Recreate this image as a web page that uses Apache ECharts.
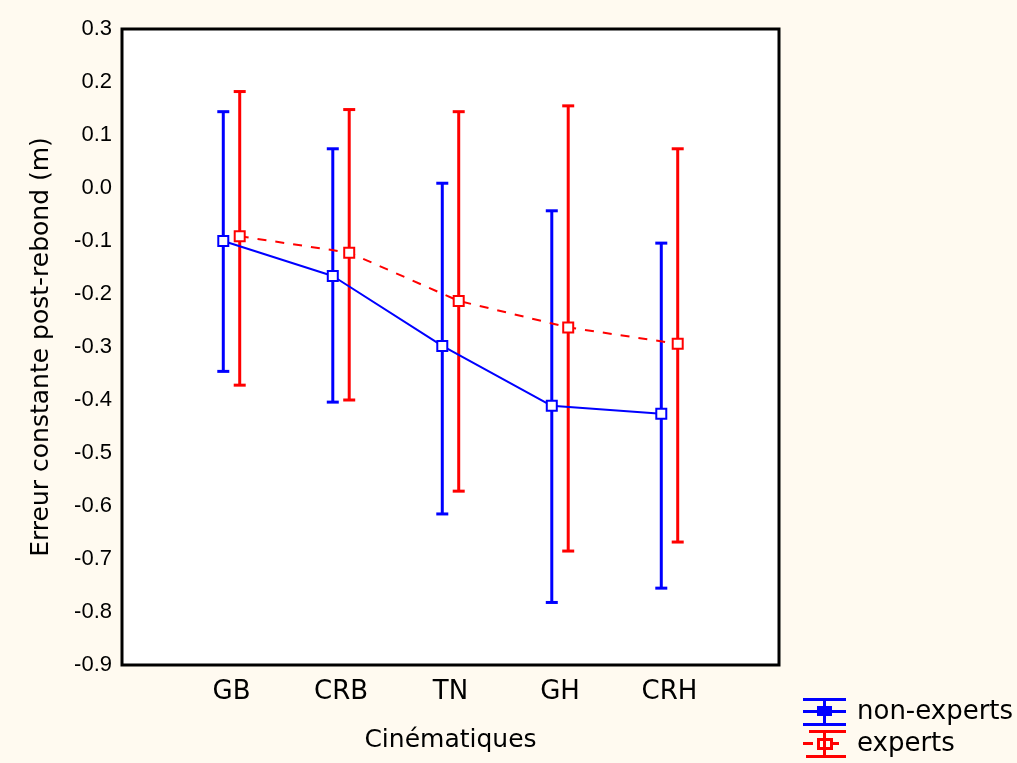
<!DOCTYPE html>
<html>
<head>
<meta charset="utf-8">
<script src="https://cdn.jsdelivr.net/npm/echarts@6/dist/echarts.min.js"></script>
<style>
  html, body { margin: 0; padding: 0; background: #fffaf0; }
  #chart { width: 1017px; height: 763px; }
</style>
</head>
<body>
<div id="chart"></div>
<script>
var categories = ['GB', 'CRB', 'TN', 'GH', 'CRH'];
var yTicks = { min: -0.9, max: 0.3, step: 0.1 };

// non-experts (blue)
var nonExpertsMean = [-0.10, -0.166, -0.298, -0.411, -0.426];
var nonExpertsLow  = [-0.346, -0.404, -0.615, -0.782, -0.755];
var nonExpertsHigh = [0.144, 0.074, 0.009, -0.043, -0.104];

// experts (red)
var expertsMean = [-0.091, -0.122, -0.213, -0.263, -0.294];
var expertsLow  = [-0.372, -0.400, -0.572, -0.685, -0.668];
var expertsHigh = [0.182, 0.148, 0.144, 0.155, 0.074];

var BLUE = '#0000ff', RED = '#ff0000';
var shift = 0.075;
var numFont = "'Liberation Sans', Arial, sans-serif";
var textFont = "'DejaVu Sans', Verdana, sans-serif";

function points(mean, dx) {
    return mean.map(function (v, i) { return [i + dx, v]; });
}
function bars(low, high, dx) {
    return low.map(function (v, i) { return [i + dx, v, high[i]]; });
}

function errorBar(params, api) {
    var x = api.value(0);
    var top = api.coord([x, api.value(2)]);
    var bot = api.coord([x, api.value(1)]);
    var half = 6;
    var style = { stroke: api.visual('color'), lineWidth: 3 };
    return {
        type: 'group',
        children: [
            { type: 'line', shape: { x1: top[0], y1: top[1], x2: bot[0], y2: bot[1] }, style: style },
            { type: 'line', shape: { x1: top[0] - half, y1: top[1], x2: top[0] + half, y2: top[1] }, style: style },
            { type: 'line', shape: { x1: bot[0] - half, y1: bot[1], x2: bot[0] + half, y2: bot[1] }, style: style }
        ]
    };
}

var blueIcon = 'path://M0 0H43V3H0Z M0 12H43V15H0Z M0 25H43V28H0Z M20 0H23V28H20Z M14 8H29V18H14Z';
var redIcon = 'path://M6 0H43V3H6Z M0 12H10V15H0Z M30 12H36V15H30Z M20 0H23V28H20Z M14 8H30V20H14Z M17 11V17H27V11Z M3 25H43V28H3Z';

var myChart = echarts.init(document.getElementById('chart'));
var option = {
    backgroundColor: '#fffaf0',
    animation: false,
    grid: {
        left: 122, top: 29, right: 238, bottom: 98,
        show: true, backgroundColor: '#ffffff',
        borderColor: '#000000', borderWidth: 3
    },
    legend: {
        orient: 'vertical',
        left: 803, top: 698,
        itemWidth: 43, itemHeight: 28, itemGap: 4,
        padding: 0,
        textStyle: { fontFamily: textFont, fontSize: 26, color: '#000', padding: [0, 0, 0, 6] },
        data: [
            { name: 'non-experts', icon: blueIcon, itemStyle: { color: BLUE, borderWidth: 0 } },
            { name: 'experts', icon: redIcon, itemStyle: { color: RED, borderWidth: 0 } }
        ]
    },
    xAxis: {
        type: 'value',
        min: -1, max: 5, interval: 1,
        name: 'Cinématiques',
        nameLocation: 'middle',
        nameGap: 63,
        nameTextStyle: { fontFamily: textFont, fontSize: 25, color: '#000' },
        axisLine: { show: false },
        axisTick: { show: false },
        splitLine: { show: false },
        axisLabel: {
            margin: 14,
            fontFamily: textFont, fontSize: 26, color: '#000',
            formatter: function (v) { return categories[v] || ''; }
        }
    },
    yAxis: {
        type: 'value',
        min: yTicks.min, max: yTicks.max, interval: yTicks.step,
        name: 'Erreur constante post-rebond (m)',
        nameLocation: 'middle',
        nameGap: 68,
        nameTextStyle: { fontFamily: textFont, fontSize: 25, color: '#000' },
        axisLine: { show: false },
        axisTick: { show: false },
        splitLine: { show: false },
        axisLabel: {
            margin: 10,
            fontFamily: numFont, fontSize: 22, color: '#000',
            formatter: function (v) { return (Math.round(v * 10) / 10).toFixed(1); }
        }
    },
    series: [
        {
            name: 'non-experts bars', type: 'custom', z: 2,
            itemStyle: { color: BLUE },
            renderItem: errorBar,
            data: bars(nonExpertsLow, nonExpertsHigh, -shift)
        },
        {
            name: 'experts bars', type: 'custom', z: 2,
            itemStyle: { color: RED },
            renderItem: errorBar,
            data: bars(expertsLow, expertsHigh, shift)
        },
        {
            name: 'non-experts', type: 'line', z: 3,
            symbol: 'emptyRect', symbolSize: 10,
            itemStyle: { color: BLUE, borderWidth: 2 },
            lineStyle: { color: BLUE, width: 2 },
            data: points(nonExpertsMean, -shift)
        },
        {
            name: 'experts', type: 'line', z: 3,
            symbol: 'emptyRect', symbolSize: 10,
            itemStyle: { color: RED, borderWidth: 2 },
            lineStyle: { color: RED, width: 2, type: [9, 9] },
            data: points(expertsMean, shift)
        }
    ]
};
myChart.setOption(option);
</script>
</body>
</html>
